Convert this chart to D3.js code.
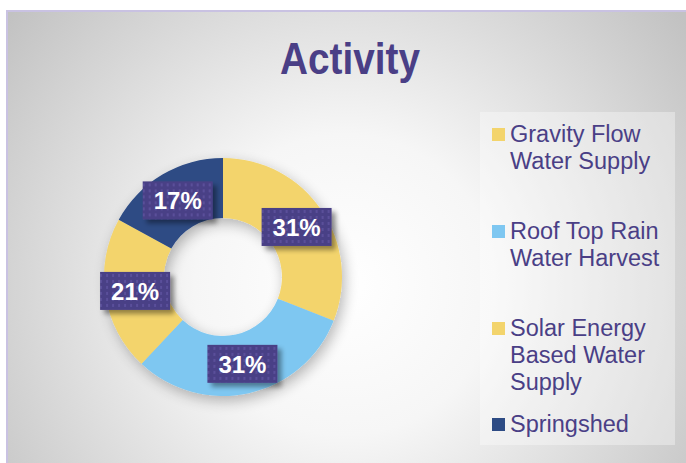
<!DOCTYPE html>
<html>
<head>
<meta charset="utf-8">
<script src="https://cdn.jsdelivr.net/npm/d3@7"></script>
<style>
  html, body { margin: 0; padding: 0; background: #ffffff; }
  svg { display: block; font-family: "Liberation Sans", Arial, sans-serif; }
</style>
</head>
<body>
<svg id="chart" width="686" height="463"></svg>
<script>
// Activity share by programme type
const categories = ["Gravity Flow Water Supply", "Roof Top Rain Water Harvest", "Solar Energy Based Water Supply", "Springshed"];
const legendLines = [["Gravity Flow", "Water Supply"], ["Roof Top Rain", "Water Harvest"], ["Solar Energy", "Based Water", "Supply"], ["Springshed"]];
const shares = [31, 31, 21, 17];
const sliceColors = ["#F3D46C", "#7EC7F1", "#F3D46C", "#2D4B84"];
const title = "Activity";

const svg = d3.select("#chart");
const W = 686, H = 463;
const defs = svg.append("defs");

// backdrop: radial fade from white centre to grey edges
const bg = defs.append("radialGradient").attr("id", "bgGrad")
  .attr("gradientUnits", "userSpaceOnUse")
  .attr("cx", 345).attr("cy", 285).attr("r", 430);
bg.append("stop").attr("offset", "0").attr("stop-color", "#ffffff");
bg.append("stop").attr("offset", "0.35").attr("stop-color", "#f6f6f6");
bg.append("stop").attr("offset", "1").attr("stop-color", "#c2c2c2");

// soft drop shadow for the ring
const ringShadow = defs.append("filter").attr("id", "ringShadow")
  .attr("x", "-30%").attr("y", "-30%").attr("width", "160%").attr("height", "160%");
ringShadow.append("feGaussianBlur").attr("in", "SourceAlpha").attr("stdDeviation", 7).attr("result", "b");
ringShadow.append("feOffset").attr("in", "b").attr("dx", 3).attr("dy", 5).attr("result", "o");
ringShadow.append("feComponentTransfer").attr("in", "o").attr("result", "s")
  .append("feFuncA").attr("type", "linear").attr("slope", 0.28);
const m1 = ringShadow.append("feMerge");
m1.append("feMergeNode").attr("in", "s");
m1.append("feMergeNode").attr("in", "SourceGraphic");

// shadow for the value tags
const tagShadow = defs.append("filter").attr("id", "tagShadow")
  .attr("x", "-20%").attr("y", "-30%").attr("width", "150%").attr("height", "180%");
tagShadow.append("feGaussianBlur").attr("in", "SourceAlpha").attr("stdDeviation", 2.5).attr("result", "b");
tagShadow.append("feOffset").attr("in", "b").attr("dx", 4).attr("dy", 4).attr("result", "o");
tagShadow.append("feComponentTransfer").attr("in", "o").attr("result", "s")
  .append("feFuncA").attr("type", "linear").attr("slope", 0.4);
const m2 = tagShadow.append("feMerge");
m2.append("feMergeNode").attr("in", "s");
m2.append("feMergeNode").attr("in", "SourceGraphic");

// dotted fill for the value tags
const pat = defs.append("pattern").attr("id", "tagPattern")
  .attr("patternUnits", "userSpaceOnUse").attr("width", 6).attr("height", 6);
pat.append("rect").attr("width", 6).attr("height", 6).attr("fill", "#4A3F86");
pat.append("rect").attr("x", 1).attr("y", 1).attr("width", 2).attr("height", 3).attr("fill", "#5A509A");

// chart area
svg.append("rect").attr("x", 7).attr("y", 11).attr("width", W - 7).attr("height", H - 11)
  .attr("fill", "url(#bgGrad)");
svg.append("path").attr("d", `M7,${H} V11 H${W}`)
  .attr("fill", "none").attr("stroke", "#c9c2e2").attr("stroke-width", 2);

// title, slightly condensed
svg.append("text")
  .attr("transform", "translate(350,74) scale(0.88,1)")
  .attr("text-anchor", "middle").attr("font-size", 44).attr("font-weight", "bold")
  .attr("fill", "#4A3F86").text(title);

// donut
const cx = 223, cy = 277, rOuter = 119, rInner = 59;
const pie = d3.pie().sort(null).value(d => d)
  .startAngle(0).endAngle(2 * Math.PI);
const arcs = pie(shares);
const arc = d3.arc().innerRadius(rInner).outerRadius(rOuter);
const labelArc = d3.arc().innerRadius((rInner + rOuter) / 2).outerRadius((rInner + rOuter) / 2);

const g = svg.append("g").attr("transform", `translate(${cx},${cy})`);
g.append("g").attr("filter", "url(#ringShadow)")
  .selectAll("path").data(arcs).join("path")
  .attr("d", arc).attr("fill", (d, i) => sliceColors[i]);

// value tags
const tags = g.selectAll("g.tag").data(arcs).join("g").attr("class", "tag")
  .attr("transform", d => `translate(${labelArc.centroid(d)})`);
tags.append("rect").attr("x", -35).attr("y", -19).attr("width", 70).attr("height", 38)
  .attr("fill", "url(#tagPattern)").attr("filter", "url(#tagShadow)");
tags.append("text").attr("text-anchor", "middle").attr("dy", 9)
  .attr("font-size", 24).attr("font-weight", "bold").attr("fill", "#ffffff")
  .text(d => d3.format(".0f")(d.value) + "%");

// legend
const legend = svg.append("g");
legend.append("rect").attr("x", 480).attr("y", 112).attr("width", 195).attr("height", 333)
  .attr("fill", "#ffffff").attr("opacity", 0.35);
const itemTop = [128, 225, 322, 418];
const lineH = 27;
categories.forEach((c, i) => {
  const it = legend.append("g");
  it.append("rect").attr("x", 492).attr("y", itemTop[i]).attr("width", 13).attr("height", 13)
    .attr("fill", sliceColors[i]);
  const t = it.append("text").attr("x", 510).attr("y", itemTop[i] + 14)
    .attr("font-size", 23.5).attr("fill", "#4A3F86");
  legendLines[i].forEach((ln, j) => {
    t.append("tspan").attr("x", 510).attr("dy", j === 0 ? 0 : lineH).text(ln);
  });
});
</script>
</body>
</html>
